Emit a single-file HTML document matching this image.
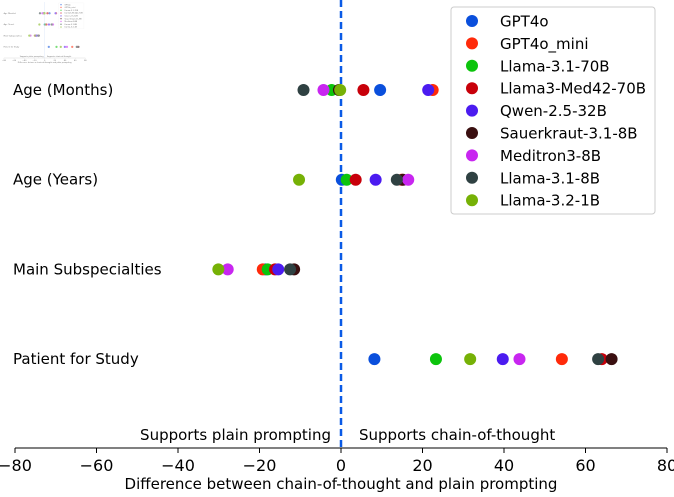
<!DOCTYPE html>
<html><head><meta charset="utf-8"><style>
body{margin:0;background:#fff;}
svg{display:block;font-family:"DejaVu Sans","Liberation Sans",sans-serif;}
</style></head><body>
<svg id="chart" width="674" height="497"></svg>
<script>
const categories=["Age (Months)","Age (Years)","Main Subspecialties","Patient for Study"];
const models=["GPT4o","GPT4o_mini","Llama-3.1-70B","Llama3-Med42-70B","Qwen-2.5-32B","Sauerkraut-3.1-8B","Meditron3-8B","Llama-3.1-8B","Llama-3.2-1B"];
const colors=["#0a4fdc","#ff2a0a","#0cc40c","#c8000a","#4b1bf0","#3a0f10","#c826f0","#2f4142","#76b106"];
const valsGPT4o=[9.6,0.2,-18.5,8.2];
const valsGPT4oMini=[22.5,14.9,-19.2,54.2];
const valsLlama70=[-2.3,1.4,-18,23.3];
const valsMed42=[5.5,3.6,-16.2,64];
const valsQwen=[21.4,8.5,-15.4,39.7];
const valsSauer=[-0.5,15.2,-11.5,66.4];
const valsMeditron=[-4.3,16.5,-27.8,43.8];
const valsLlama8=[-9.2,13.7,-12.5,63.1];
const valsLlama1=[-0.2,-10.3,-30.1,31.7];
const series=[valsGPT4o,valsGPT4oMini,valsLlama70,valsMed42,valsQwen,valsSauer,valsMeditron,valsLlama8,valsLlama1];
const xTicks=[-80,-60,-40,-20,0,20,40,60,80];

const NS="http://www.w3.org/2000/svg";
const svg=document.getElementById("chart");
function el(t,a,p){const e=document.createElementNS(NS,t);for(const k in a)e.setAttribute(k,a[k]);(p||svg).appendChild(e);return e;}
const x=v=>341+v*4.075;
const yRow=i=>90+i*89.7;
const axisY=448;

function draw(root,main){
categories.forEach((c,i)=>{
  const t=el("text",{x:13,y:yRow(i)+5,"font-size":15,fill:"#000"},root);
  t.textContent=c;
  
  
});
const zl=el("line",{x1:x(0),x2:x(0),y1:0,y2:axisY,stroke:main?"#0a5ae6":"#9ec0ee","stroke-width":2.5,"stroke-dasharray":main?"7,4":"none"},root);


series.forEach((s,m)=>{
  s.forEach((v,i)=>{
    const d=el("circle",{cx:x(v),cy:yRow(i),r:main?6:9,fill:colors[m]},root);
    
    
  });
});
const ax=el("line",{x1:x(-80),x2:x(80),y1:axisY,y2:axisY,stroke:"#000","stroke-width":1},root);


xTicks.forEach(v=>{
  el("line",{x1:x(v),x2:x(v),y1:axisY,y2:axisY+5,stroke:"#000"},root);
  const t=el("text",{x:x(v),y:axisY+23,"font-size":16,"text-anchor":"middle"},root);
  t.textContent=(v<0?"\u2212"+(-v):v);
  
  
});
const xt=el("text",{x:341,y:489,"font-size":15,"text-anchor":"middle"},root);
xt.textContent="Difference between chain-of-thought and plain prompting";


const a1=el("text",{x:331,y:440,"font-size":15,"text-anchor":"end"},root);
a1.textContent="Supports plain prompting";


const a2=el("text",{x:359,y:440,"font-size":15},root);
a2.textContent="Supports chain-of-thought";


const lg=el("g",{},root);


el("rect",{x:451,y:7,width:204,height:207,rx:3,fill:"#fff","fill-opacity":0.85,stroke:"#ccc"},lg);
models.forEach((m,i)=>{
  const yy=21+i*22.4;
  el("circle",{cx:472,cy:yy,r:6,fill:colors[i]},lg);
  const t=el("text",{x:500,y:yy+5.5,"font-size":15},lg);
  t.textContent=m;
  
  
});
}
const inset=el("g",{transform:"translate(2,2) scale(0.125)",opacity:0.55});


draw(inset,false);
draw(svg,true);
</script>
</body></html>
